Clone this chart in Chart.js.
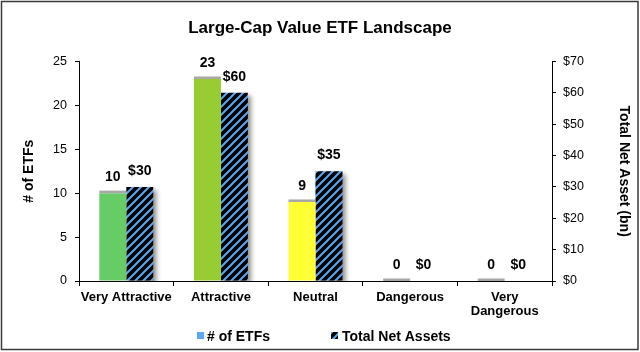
<!DOCTYPE html>
<html>
<head>
<meta charset="utf-8">
<script src="https://cdn.jsdelivr.net/npm/chart.js@4.4.0/dist/chart.umd.min.js"></script>
<style>
  body { margin: 0; background: #fff; }
  canvas { display: block; }
</style>
</head>
<body>
<canvas id="etfChart" width="640" height="352"></canvas>
<script>
const ratings = ['Very Attractive', 'Attractive', 'Neutral', 'Dangerous', ['Very', 'Dangerous']];
const etfCounts = [10, 23, 9, 0, 0];
const netAssets = [30, 60, 35, 0, 0];
const ratingColors = ['#66CC66', '#99CC33', '#FFFF33', '#FF9933', '#CC3333'];

const FONT = 'Arial, "Liberation Sans", sans-serif';

// blue/black diagonal hatch
function makeHatch() {
  const s = 8;
  const c = document.createElement('canvas');
  c.width = s; c.height = s;
  const g = c.getContext('2d');
  g.fillStyle = '#000';
  g.fillRect(0, 0, s, s);
  g.strokeStyle = '#5AA8F5';
  g.lineWidth = 2;
  g.beginPath();
  g.moveTo(-1, s + 1); g.lineTo(s + 1, -1);
  g.moveTo(-s - 1, s + 1); g.lineTo(s + 1, -s - 1);
  g.moveTo(-1, 2 * s + 1); g.lineTo(2 * s + 1, -1);
  g.stroke();
  return g.createPattern(c, 'repeat');
}
const hatch = makeHatch();

const chartDecor = {
  id: 'chartDecor',
  beforeDatasetDraw(chart, args) {
    if (args.index === 1) {
      const ctx = chart.ctx;
      ctx.save();
      ctx.shadowColor = 'rgba(0,0,0,0.45)';
      ctx.shadowBlur = 5;
      ctx.shadowOffsetX = 3;
      ctx.shadowOffsetY = 3;
    }
  },
  afterDatasetDraw(chart, args) {
    if (args.index === 1) chart.ctx.restore();
  },
  afterDatasetsDraw(chart) {
    const ctx = chart.ctx;
    // grey top edge on the count bars
    chart.getDatasetMeta(0).data.forEach(bar => {
      ctx.fillStyle = '#a8a8a8';
      ctx.fillRect(bar.x - bar.width / 2, bar.y - 2.5, bar.width, 2.5);
    });
    // value labels
    ctx.save();
    ctx.font = 'bold 14px ' + FONT;
    ctx.fillStyle = '#000';
    ctx.textAlign = 'center';
    ctx.textBaseline = 'middle';
    chart.data.datasets.forEach((ds, i) => {
      chart.getDatasetMeta(i).data.forEach((bar, j) => {
        const v = ds.data[j];
        ctx.fillText(i === 1 ? '$' + v : String(v), bar.x, bar.y - 16);
      });
    });
    ctx.restore();
  },
  afterDraw(chart) {
    const ctx = chart.ctx;
    ctx.save();
    // legend
    ctx.font = 'bold 14px ' + FONT;
    ctx.textBaseline = 'middle';
    ctx.fillStyle = '#5AA8F5';
    ctx.fillRect(197, 332, 7, 7);
    ctx.fillStyle = '#000';
    ctx.fillText('# of ETFs', 207, 337);
    ctx.fillStyle = hatch;
    ctx.fillRect(331, 332, 7, 7);
    ctx.fillStyle = '#000';
    ctx.fillText('Total Net Assets', 342, 337);
    // frame
    ctx.strokeStyle = '#3a3a3a';
    ctx.lineWidth = 1.5;
    ctx.strokeRect(1.5, 1.5, 636.5, 348);
    ctx.restore();
  }
};

new Chart(document.getElementById('etfChart'), {
  type: 'bar',
  data: {
    labels: ratings,
    datasets: [{
      label: '# of ETFs',
      data: etfCounts,
      backgroundColor: ratingColors,
      yAxisID: 'y'
    }, {
      label: 'Total Net Assets',
      data: netAssets,
      backgroundColor: hatch,
      yAxisID: 'y1'
    }]
  },
  options: {
    responsive: false,
    animation: false,
    categoryPercentage: 0.57,
    barPercentage: 1,
    layout: { padding: { left: 8, right: 8, top: 0, bottom: 29 } },
    plugins: {
      legend: { display: false },
      tooltip: { enabled: false },
      title: {
        display: true,
        text: 'Large-Cap Value ETF Landscape',
        color: '#000',
        font: { family: FONT, size: 17, weight: 'bold' },
        padding: { top: 18, bottom: 23 }
      }
    },
    scales: {
      x: {
        grid: { display: true, drawOnChartArea: false, color: '#000', tickLength: 5, offset: true },
        border: { color: '#000', width: 1 },
        ticks: { color: '#000', font: { family: FONT, size: 13, weight: 'bold', lineHeight: 1.1 }, padding: 4, maxRotation: 0, autoSkip: false },
        afterFit(scale) { scale.height = 42; }
      },
      y: {
        position: 'left',
        min: 0, max: 25,
        ticks: { stepSize: 5, color: '#000', font: { family: FONT, size: 12.5 }, padding: 8 },
        grid: { drawOnChartArea: false, color: '#000', tickLength: 4 },
        border: { color: '#000', width: 1 },
        title: { display: true, text: '# of ETFs', color: '#000', font: { family: FONT, size: 14, weight: 'bold' }, padding: { top: 13, bottom: 0 } },
        afterFit(scale) { scale.width = 71; }
      },
      y1: {
        position: 'right',
        min: 0, max: 70,
        ticks: { stepSize: 10, color: '#000', font: { family: FONT, size: 12.5 }, padding: 7, callback: v => '$' + v },
        grid: { drawOnChartArea: false, color: '#000', tickLength: 4 },
        border: { color: '#000', width: 1 },
        title: { display: true, text: 'Total Net Asset (bn)', color: '#000', font: { family: FONT, size: 14, weight: 'bold' }, padding: { top: 0, bottom: 0 } },
        afterFit(scale) { scale.width = 80; }
      }
    }
  },
  plugins: [chartDecor]
});
</script>
</body>
</html>
